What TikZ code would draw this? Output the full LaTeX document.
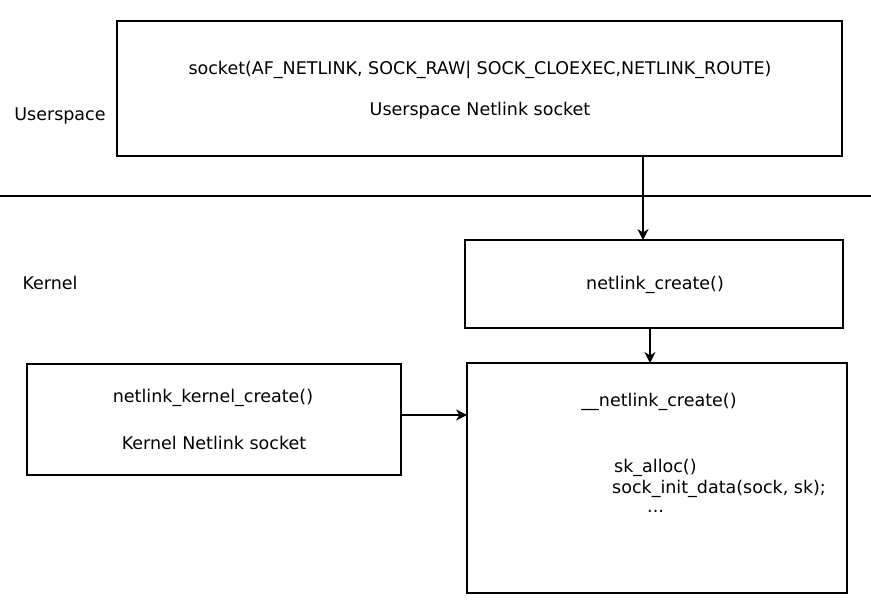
\documentclass[tikz,border=0pt]{standalone}
\usepackage{fontspec}
\setmainfont{DejaVu Sans}
\usetikzlibrary{arrows.meta}
\begin{document}
\begin{tikzpicture}[x=1pt,y=-1pt,
  box/.style={draw,line width=1.6pt},
  lbl/.style={font=\fontsize{17.5}{21}\selectfont,inner sep=0pt},
  arr/.style={line width=1.4pt,-{Stealth[length=11pt,width=11pt,inset=3.5pt]}}]
\useasboundingbox (0,0) rectangle (871,604);
% boxes
\draw[box] (117,21) rectangle (842,156);
\draw[box] (465,240) rectangle (843,328);
\draw[box] (27,364) rectangle (401,475);
\draw[box] (467,363) rectangle (847,593);
\coordinate (topb) at (643,156);
\coordinate (ncT) at (643,240);
\coordinate (ncB) at (650,328);
\coordinate (bigT) at (650,363);
\coordinate (kR) at (401,415);
\coordinate (bigL) at (467,415);
% separator
\coordinate (sepL) at (0,196);
\coordinate (sepR) at (871,196);
\draw[line width=1.4pt] (sepL) -- (sepR);
% texts
\node[lbl] (t1) at (480,70) {socket(AF\_NETLINK, SOCK\_RAW| SOCK\_CLOEXEC,NETLINK\_ROUTE)};
\node[lbl] (t2) at (480,111) {Userspace Netlink socket};
\node[lbl] (us) at (60,116) {Userspace};
\node[lbl] (kn) at (50,283) {Kernel};
\node[lbl] (nc) at (655,285) {netlink\_create()};
\node[lbl] (kc) at (213,398) {netlink\_kernel\_create()};
\node[lbl] (kns) at (214,443) {Kernel Netlink socket};
\node[lbl] (unc) at (659,402) {\_\_netlink\_create()};
\node[lbl,anchor=west] (ska) at (614,468) {sk\_alloc()};
\node[lbl,anchor=west] (sid) at (612,489) {sock\_init\_data(sock, sk);};
\node[lbl,anchor=west] (dots) at (647,511) {...};
% arrows
\draw[arr] (topb) -- (ncT);
\draw[arr] (ncB) -- (bigT);
\draw[arr] (kR) -- (bigL);
\end{tikzpicture}
\end{document}
